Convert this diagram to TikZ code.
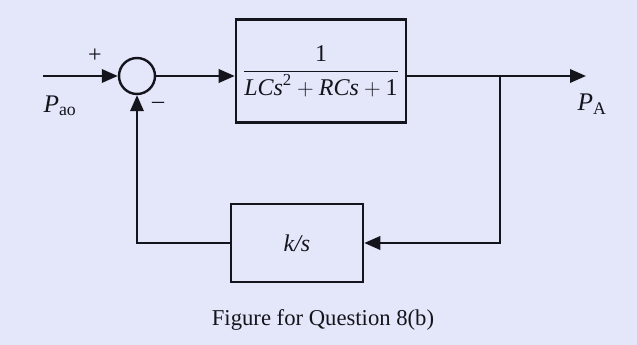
\documentclass[tikz,border=0pt]{standalone}
\definecolor{sheetBg}{RGB}{228,230,249}
\definecolor{inkDark}{RGB}{20,20,28}
\usepackage{amsmath}
\usepackage{fontspec}
\setmainfont{Liberation Serif}
\usepackage{tikz}
\usetikzlibrary{arrows.meta,positioning,calc}
\newcommand{\sigsub}[2]{\textit{#1}\textsubscript{#2}}

\begin{document}
\begin{tikzpicture}[x=0.75pt,y=-0.75pt,
    line width=1.8pt, draw=inkDark, text=inkDark,
    sig/.style={-{Triangle[length=12pt,width=10pt]}},
    blockbox/.style={rectangle, draw, line width=1.9pt, inner sep=0pt,
                     font=\fontsize{18}{21}\selectfont},
    sumnode/.style={circle, draw, line width=1.8pt, minimum size=27pt, inner sep=0pt},
    lbl/.style={font=\fontsize{19}{22}\selectfont}]
  \fill[sheetBg] (0,0) rectangle (637,345);
  \useasboundingbox (0,0) rectangle (637,345);

  % forward path
  \coordinate (in) at (43,76);
  \node[sumnode] (sum) at (137,76) {};
  \node[blockbox, minimum width=127.5pt, minimum height=77pt] (plant) at (321,71)
    {$\dfrac{\text{1}}{\textit{LCs}^{\text{2}}+\textit{RCs}+\text{1}}$};
  \coordinate (out) at (586,76);
  \coordinate (branch) at (500,76);

  % feedback path
  \node[blockbox, minimum width=99pt, minimum height=58.5pt] (fb) at (297,243) {\textit{k/s}};

  \draw[sig] (in) -- (sum.west);
  \draw[sig] (sum.east) -- (sum.east -| plant.west);
  \draw[sig] (sum.east -| plant.east) -- (out);
  \draw[sig] (branch) |- (fb.east);
  \draw[sig] (fb.west) -| (sum.south);

  % labels
  \node[font=\fontsize{18}{20}\selectfont] (plus) at (95,56) {+};
  \node[font=\fontsize{18}{20}\selectfont] (minus) at (158,105) {--};
  \node[lbl] (pin) at (60,106) {\sigsub{P}{ao}};
  \node[lbl] (pout) at (592,104) {\sigsub{P}{A}};
  \node[font=\fontsize{17}{20}\selectfont] (caption) at (323,320) {Figure for Question 8(b)};
\end{tikzpicture}
\end{document}
